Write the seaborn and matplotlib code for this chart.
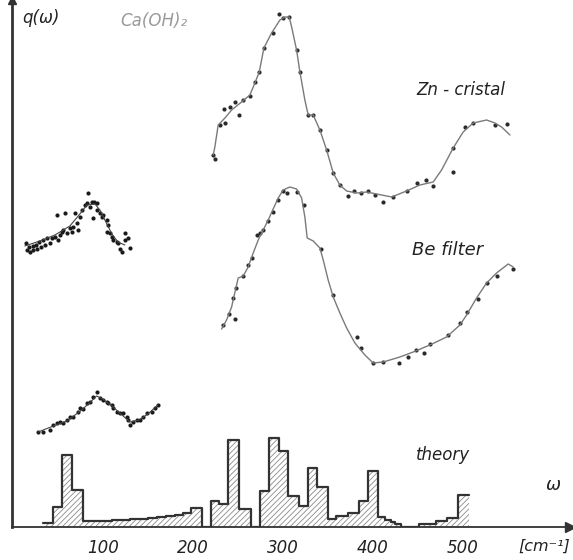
import numpy as np
import pandas as pd
import matplotlib
matplotlib.use("Agg")
import matplotlib.pyplot as plt
import seaborn as sns

# ---------------- data (omega in cm^-1, q in arbitrary units) ----------------
zn_line_w = [222.6, 224.4, 228.1, 235.6, 243.0, 254.1, 263.3, 268.9, 273.7, 278.9, 287.4, 296.7, 302.2, 307.0,
             309.7, 315.2, 318.9, 324.4, 328.1, 333.7, 341.1, 348.6, 355.9, 363.3, 370.8, 381.9, 393.0, 404.1,
             420.8, 437.4, 452.2, 467.0, 476.3, 489.2, 500.3, 511.4, 526.3, 535.6, 543.0, 552.2]
zn_line_q = [37.2, 38.0, 40.2, 40.9, 41.7, 42.5, 43.2, 44.4, 45.5, 47.9, 49.4, 50.7, 51.0, 51.0,
             50.0, 47.7, 45.5, 42.7, 41.2, 41.2, 39.7, 37.7, 35.4, 34.2, 33.6, 33.4, 33.5, 33.3,
             33.0, 33.6, 34.2, 34.5, 35.7, 37.9, 39.5, 40.4, 40.7, 40.4, 40.0, 39.2]
zn_pts_w = [224.4, 222.6, 230.0, 235.6, 234.4, 241.1, 246.7, 251.5, 255.9, 263.3, 268.9, 273.7, 279.2, 288.5,
            295.9, 300.4, 307.0, 315.2, 318.9, 328.1, 333.7, 341.1, 348.6, 355.2, 363.3, 371.9, 378.9, 386.7,
            394.8, 402.2, 410.8, 421.9, 438.1, 448.6, 458.9, 467.0, 488.6, 489.2, 502.2, 511.4, 535.6, 548.6]
zn_pts_q = [36.8, 37.2, 40.2, 40.4, 41.8, 42.0, 42.5, 41.2, 42.7, 43.1, 44.5, 45.5, 47.9, 49.4,
            51.3, 50.9, 51.0, 47.7, 45.5, 41.2, 41.2, 39.7, 37.7, 35.4, 34.2, 33.1, 33.6, 33.4,
            33.6, 33.2, 32.5, 33.0, 33.6, 34.4, 34.7, 34.1, 37.9, 35.5, 40.0, 40.4, 40.2, 40.3]

be_line_w = [231.9, 237.4, 243.0, 247.8, 250.3, 255.9, 261.4, 267.0, 272.6, 278.1, 283.7, 289.2, 294.8, 300.3,
             307.8, 315.2, 320.8, 324.4, 327.0, 333.7, 341.1, 344.8, 350.3, 355.9, 363.3, 370.8, 380.0, 391.1,
             400.3, 411.4, 430.0, 444.8, 463.3, 481.9, 496.7, 504.1, 515.2, 526.3, 537.4, 550.3, 555.9]
be_line_q = [19.8, 20.7, 22.0, 23.9, 24.9, 25.1, 26.0, 27.4, 28.7, 29.7, 30.7, 31.8, 32.9, 33.7,
             34.0, 33.8, 32.9, 31.0, 28.9, 28.6, 27.9, 26.7, 24.7, 23.0, 21.4, 19.9, 18.4, 17.2,
             16.4, 16.5, 17.0, 17.5, 18.2, 19.0, 20.2, 21.2, 22.9, 24.4, 25.4, 26.3, 26.0]
be_pts_w = [233.7, 240.3, 244.8, 246.7, 247.8, 255.9, 261.4, 265.2, 270.8, 274.4, 278.1, 283.7, 288.5, 294.8,
            300.3, 304.8, 315.2, 323.3, 341.9, 355.9, 381.9, 386.3, 400.3, 411.4, 428.9, 439.2, 447.8, 456.7,
            463.3, 483.7, 496.7, 504.1, 517.0, 526.3, 537.4, 555.2]
be_pts_q = [20.2, 21.3, 22.9, 20.8, 23.9, 25.1, 26.2, 26.9, 29.2, 29.4, 29.7, 30.6, 31.5, 32.7,
            33.6, 33.4, 33.5, 32.2, 27.8, 23.2, 19.0, 17.9, 16.4, 16.5, 16.4, 17.0, 17.7, 17.4,
            18.3, 19.2, 20.4, 21.5, 22.8, 24.4, 25.1, 25.8]

low1_pts_w = [14.4, 15.2, 18.1, 18.9, 21.9, 22.6, 25.6, 26.3, 29.2, 30.8, 33.7, 35.6, 37.4, 41.1, 43.0, 46.7,
              49.2, 50.3, 52.2, 54.1, 55.9, 57.8, 59.7, 63.3, 65.2, 67.0, 68.9, 70.8, 72.6, 74.4, 76.3, 80.0,
              82.6, 83.7, 85.6, 87.4, 90.0, 93.0, 93.7, 89.2, 96.7, 98.6, 100.3, 104.1, 105.9, 104.1, 107.8,
              109.7, 111.4, 115.2, 117.0, 118.9, 120.8, 124.4, 124.4, 128.1, 130.0]
low1_pts_q = [28.4, 27.7, 28.0, 27.5, 28.1, 27.7, 28.2, 27.8, 28.5, 28.0, 28.7, 28.2, 28.9, 28.4, 28.9, 29.0,
              31.2, 28.7, 29.2, 29.5, 29.7, 31.4, 29.4, 29.9, 29.5, 30.0, 31.4, 30.4, 29.7, 31.0, 31.7, 32.2,
              32.4, 33.4, 32.0, 32.5, 32.5, 32.4, 31.7, 30.9, 31.4, 31.0, 31.2, 30.7, 30.2, 29.5, 29.4,
              29.0, 28.7, 28.5, 28.4, 27.8, 27.5, 29.4, 28.7, 28.9, 27.9]
low1_line_w = [13.3, 30.0, 46.7, 63.3, 74.4, 82.2, 91.1, 96.7, 102.2, 110.0, 116.7, 124.4]
low1_line_q = [28.1, 28.6, 29.2, 30.1, 31.3, 32.2, 32.3, 31.7, 30.7, 29.3, 28.5, 28.2]

low2_pts_w = [28.1, 33.7, 41.1, 44.8, 48.6, 52.2, 55.9, 59.7, 63.3, 67.0, 72.6, 74.4, 78.1, 81.9, 85.6, 89.2,
              93.0, 96.7, 100.3, 104.1, 105.9, 109.7, 111.4, 115.2, 118.9, 122.6, 126.3, 128.1, 130.0, 133.7,
              137.4, 141.1, 144.8, 148.6, 154.1, 157.8, 161.1]
low2_pts_q = [9.5, 9.5, 9.7, 10.2, 10.4, 10.5, 10.4, 10.7, 11.0, 11.0, 11.5, 11.9, 11.8, 12.4, 12.5, 13.0,
              13.5, 12.9, 12.7, 12.5, 12.4, 12.2, 11.9, 11.5, 11.4, 11.4, 11.0, 10.7, 10.2, 10.5,
              10.7, 10.7, 11.0, 11.4, 11.5, 11.9, 12.2]
low2_line_w = [28, 45, 60, 75, 85, 93, 100, 110, 120, 130, 140, 150, 161]
low2_line_q = [9.5, 10.1, 10.6, 11.6, 12.4, 13.1, 12.8, 12.1, 11.3, 10.5, 10.7, 11.3, 12.2]

theory_edges = [33, 45, 54, 66, 78, 90, 100, 110, 120, 130, 140, 150, 160, 170, 180, 189, 198, 210, 220,
                229, 238.5, 251, 265, 274, 284, 295.5, 306, 318, 328, 338, 350, 359, 372, 384, 395, 406,
                413, 420, 424, 431, 451, 470, 482, 495, 507]
theory_heights = [0.4, 2.0, 7.2, 3.7, 0.6, 0.6, 0.6, 0.7, 0.7, 0.8, 0.8, 0.9, 1.0, 1.1, 1.2, 1.4, 1.9, 0.0,
                  2.6, 2.3, 8.7, 1.8, 0.0, 3.6, 8.9, 7.6, 3.1, 2.1, 5.9, 4.0, 0.8, 1.1, 1.4, 2.6, 5.6,
                  1.0, 0.7, 0.5, 0.3, 0.0, 0.35, 0.6, 0.9, 3.2]

xticks = [100, 200, 300, 400, 500]
xticklabels = ["100", "200", "300", "400", "500"]

# ---------------- figure ----------------
sns.set_style("white")
plt.rcParams["font.family"] = ["DejaVu Sans"]
plt.rcParams["hatch.linewidth"] = 0.6
fig = plt.figure(figsize=(5.73, 5.60), dpi=100)
ax = fig.add_axes([12 / 573, 33 / 560, 558 / 573, 527 / 560])
ax.set_xlim(-1, 619)
ax.set_ylim(0, 52.7)

edges = np.array(theory_edges)
centers = (edges[:-1] + edges[1:]) / 2
hist_df = pd.DataFrame({"w": centers, "h": theory_heights})

sns.histplot(data=hist_df, x="w", weights="h", bins=theory_edges, element="step", fill=True,
             color="white", edgecolor="#8a8a8a", linewidth=0, alpha=1, hatch="//////", ax=ax)
sns.histplot(data=hist_df, x="w", weights="h", bins=theory_edges, element="step", fill=False,
             color="#333333", linewidth=1.6, ax=ax)

line_kw = dict(sort=False, estimator=None, color="#7a7a7a", linewidth=1.0, ax=ax)
sns.lineplot(x=zn_line_w, y=zn_line_q, **line_kw)
sns.lineplot(x=be_line_w, y=be_line_q, **line_kw)
sns.lineplot(x=low1_line_w, y=low1_line_q, sort=False, estimator=None, color="#444444", linewidth=0.8, ax=ax)
sns.lineplot(x=low2_line_w, y=low2_line_q, sort=False, estimator=None, color="#444444", linewidth=0.8, ax=ax)

pt_kw = dict(color="#2a2a2a", s=9, linewidth=0, ax=ax, legend=False)
sns.scatterplot(x=zn_pts_w, y=zn_pts_q, **pt_kw)
sns.scatterplot(x=be_pts_w, y=be_pts_q, **pt_kw)
sns.scatterplot(x=low1_pts_w, y=low1_pts_q, color="#1a1a1a", s=9, linewidth=0, ax=ax, legend=False)
sns.scatterplot(x=low2_pts_w, y=low2_pts_q, color="#1a1a1a", s=9, linewidth=0, ax=ax, legend=False)

# axes styling
for side in ["top", "right"]:
    ax.spines[side].set_visible(False)
ax.spines["left"].set_linewidth(2.0)
ax.spines["left"].set_color("#333333")
ax.spines["bottom"].set_linewidth(1.3)
ax.spines["bottom"].set_color("#333333")
ax.set_xlabel("")
ax.set_ylabel("")
ax.set_yticks([])
ax.set_xticks(xticks)
ax.set_xticklabels(xticklabels, fontsize=12, style="italic", color="#222222")
ax.tick_params(axis="x", direction="inout", length=7, width=1, color="#333333", pad=5)

# arrow heads
ax.plot(1, 0, marker=">", color="#333333", markersize=7, transform=ax.transAxes, clip_on=False)
ax.plot(0, 1, marker="^", color="#333333", markersize=6, transform=ax.transAxes, clip_on=False)

txt = dict(style="italic", color="#222222")
ax.text(10, 50.9, "q(ω)", fontsize=12, va="center", ha="left", **txt)
ax.text(119, 50.6, "Ca(OH)₂", fontsize=12, va="center", ha="left", style="italic", color="#9a9a9a")
ax.text(448, 43.7, "Zn - cristal", fontsize=12, va="center", ha="left", **txt)
ax.text(444, 27.7, "Be filter", fontsize=13, va="center", ha="left", **txt)
ax.text(448, 7.2, "theory", fontsize=12, va="center", ha="left", **txt)
ax.text(600, 4.2, "ω", fontsize=13, va="center", ha="center", **txt)
ax.text(619, -1.9, "[cm⁻¹]", fontsize=11.5, va="center", ha="right", clip_on=False, **txt)

fig.savefig("out.png", dpi=100)
